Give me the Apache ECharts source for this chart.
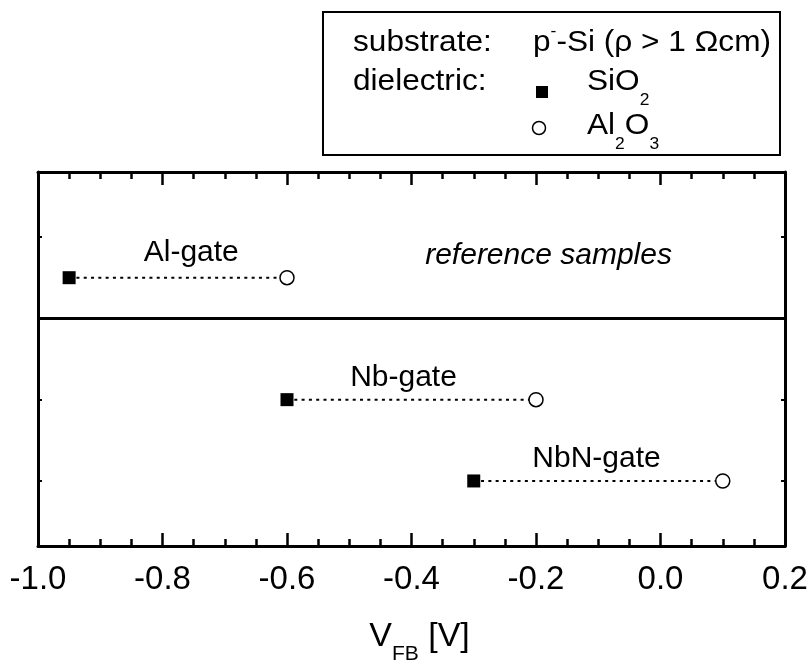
<!DOCTYPE html>
<html><head><meta charset="utf-8">
<script src="https://cdn.jsdelivr.net/npm/echarts@6/dist/echarts.min.js"></script>
<style>html,body{margin:0;padding:0;background:#fff}#c{width:810px;height:666px}</style>
</head><body><div id="c"></div>
<script>
// ---- data ----
const gates = ['Al-gate', 'Nb-gate', 'NbN-gate'];
const rowY = [3.5, 2, 1];                 // vertical row of each sample
const vfbSiO2 = [-0.95, -0.6, -0.3];      // V_FB with SiO2 dielectric
const vfbAl2O3 = [-0.6, -0.2, 0.1];       // V_FB with Al2O3 dielectric
const labelX = [-0.753, -0.412, -0.102];  // annotation positions (data units)
const labelY = [3.80, 2.26, 1.27];
const refText = 'reference samples';
const refX = -0.179, refY = 3.76;
const dividerY = 3;
const xMin = -1.0, xMax = 0.2, xStep = 0.2;
const yMin = 0.2, yMax = 4.8;
const yTickValues = [1, 2, 3, 4];

const FONT = '"Liberation Sans", Arial, Helvetica, sans-serif';
const chart = echarts.init(document.getElementById('c'), null, {renderer: 'canvas'});

const series = gates.map((g, i) => ({
  type: 'line',
  name: g,
  xAxisIndex: 0, yAxisIndex: 0,
  animation: false,
  silent: true,
  lineStyle: {color: '#000', width: 2, type: [3, 4.3]},
  data: [
    {value: [vfbSiO2[i], rowY[i]], symbol: 'rect', symbolSize: 13, itemStyle: {color: '#000', borderWidth: 0}},
    {value: [vfbAl2O3[i], rowY[i]], symbol: 'circle', symbolSize: 14, itemStyle: {color: '#fff', borderColor: '#000', borderWidth: 1.5}}
  ],
  markLine: i === 0 ? {
    silent: true, animation: false, symbol: ['none', 'none'],
    label: {show: false},
    lineStyle: {color: '#000', width: 3, type: 'solid'},
    data: [{yAxis: dividerY}]
  } : undefined
}));

series.push({
  type: 'scatter',
  animation: false, silent: true,
  symbol: 'circle', symbolSize: 1,
  itemStyle: {color: '#fff', opacity: 1},
  emphasis: {disabled: true},
  label: {show: true, position: [0, 0], align: 'center', verticalAlign: 'middle',
    formatter: p => p.name, color: '#000', opacity: 1,
    textBorderWidth: 0, textShadowBlur: 0, fontSize: 30, fontFamily: FONT},
  data: gates.map((g, i) => ({name: g, value: [labelX[i], labelY[i]]})).concat([
    {name: refText, value: [refX, refY], label: {fontStyle: 'italic'}}
  ])
});

const axisLineStyle = {color: '#000', width: 3};
const xCommon = {
  type: 'value', min: xMin, max: xMax, interval: xStep,
  axisLine: {show: true, onZero: false, lineStyle: axisLineStyle},
  axisTick: {show: true, inside: true, length: 13, lineStyle: {color: '#000', width: 2.5}},
  minorTick: {show: true, splitNumber: 4, length: 7, lineStyle: {color: '#000', width: 2.5}},
  splitLine: {show: false}, minorSplitLine: {show: false}
};
const yCommon = {
  type: 'value', min: yMin, max: yMax,
  axisLine: {show: true, onZero: false, lineStyle: axisLineStyle},
  axisTick: {show: true, inside: true, length: 4, customValues: yTickValues, lineStyle: {color: '#000', width: 2}},
  axisLabel: {show: false},
  splitLine: {show: false}
};

const mainRich = {
  v: {fontSize: 34, fontFamily: FONT, color: '#000', lineHeight: 38},
  s: {fontSize: 21, fontFamily: FONT, color: '#000', lineHeight: 21, padding: [34, 0, 0, 0]}
};

const LF = 29;
const legRich = {
  m: {fontSize: LF, fontFamily: FONT, color: '#000', lineHeight: 32},
  sub: {fontSize: 16, fontFamily: FONT, color: '#000', lineHeight: 16, padding: [38, 0, 0, 0]},
  sup: {fontSize: 16, fontFamily: FONT, color: '#000', lineHeight: 16, padding: [0, 0, 22, 0]}
};
const SX = 1.09;
function legText(x, y, text) {
  return {type: 'text', x: x, y: y, scaleX: SX, silent: true,
    style: {text: text, rich: legRich, textVerticalAlign: 'middle', fill: '#000', font: LF + 'px ' + FONT}};
}

chart.setOption({
  backgroundColor: '#fff',
  animation: false,
  grid: {left: 38, right: 25, top: 172, bottom: 120, containLabel: false, outerBoundsMode: 'none'},
  xAxis: [
    Object.assign({}, xCommon, {
      position: 'bottom',
      axisLabel: {show: true, color: '#000', fontSize: 33, fontFamily: FONT, margin: 17,
        showMinLabel: true, showMaxLabel: true,
        formatter: v => (Math.abs(v) < 1e-9 ? 0 : v).toFixed(1)},
      name: '{v|V}{s|FB}{v| [V]}',
      nameLocation: 'middle', nameGap: 72,
      nameTextStyle: {rich: mainRich, padding: [0, 0, 0, 16]}
    }),
    Object.assign({}, xCommon, {position: 'top', axisLabel: {show: false}})
  ],
  yAxis: [
    Object.assign({}, yCommon, {position: 'left'}),
    Object.assign({}, yCommon, {position: 'right'})
  ],
  graphic: [
    {type: 'rect', shape: {x: 323, y: 12, width: 457, height: 143},
      style: {fill: '#fff', stroke: '#000', lineWidth: 2}, silent: true},
    legText(353, 43, '{m|substrate:}'),
    legText(353, 82, '{m|dielectric:}'),
    legText(533, 43, '{m|p}{sup|-}{m|-Si (ρ > 1 Ωcm)}'),
    {type: 'rect', shape: {x: 536, y: 86, width: 12, height: 12}, style: {fill: '#000'}, silent: true},
    legText(587, 82, '{m|SiO}{sub|2}'),
    {type: 'circle', shape: {cx: 539, cy: 128, r: 6.5}, style: {fill: '#fff', stroke: '#000', lineWidth: 1.5}, silent: true},
    legText(587, 126, '{m|Al}{sub|2}{m|O}{sub|3}')
  ],
  series: series
});
</script>
</body></html>
